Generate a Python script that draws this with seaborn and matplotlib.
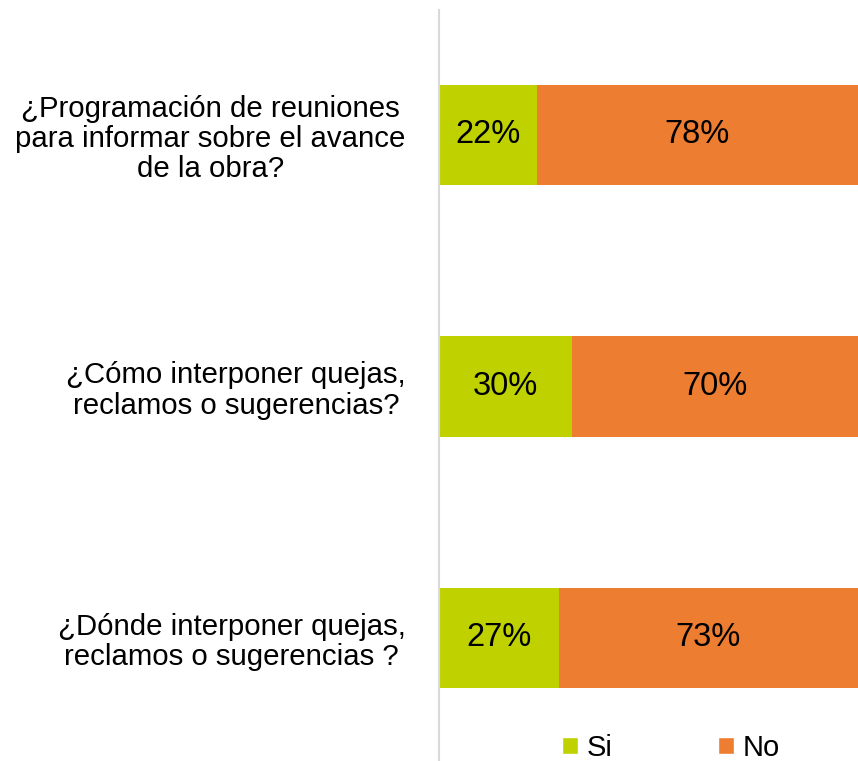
import numpy as np
import matplotlib
matplotlib.use('Agg')
import matplotlib.pyplot as plt
import seaborn as sns
import pandas as pd
from matplotlib.patches import Patch

# datos del gráfico
preguntas = [
    "¿Programación de reuniones\npara informar sobre el avance\nde la obra?",
    "¿Cómo interponer quejas,\nreclamos o sugerencias?",
    "¿Dónde interponer quejas,\nreclamos o sugerencias ?",
]
si = [0.22, 0.30, 0.27]
no = [0.78, 0.70, 0.73]

color_si = '#BFD200'
color_no = '#ED7D31'

sns.set_theme(style='white')
plt.rcParams['font.family'] = ['Liberation Sans', 'DejaVu Sans']

df = pd.DataFrame({'pregunta': preguntas, 'Si': si, 'No': no})
df['total'] = df['Si'] + df['No']

fig = plt.figure(figsize=(8.58, 7.61), dpi=100)
ax = fig.add_axes([439 / 858, 0.0, 1 - 439 / 858, 1 - 10 / 761])

# barra apilada: total (No) detrás, Si delante
sns.barplot(data=df, y='pregunta', x='total', orient='h', color=color_no,
            width=0.4, ax=ax, saturation=1, linewidth=0)
sns.barplot(data=df, y='pregunta', x='Si', orient='h', color=color_si,
            width=0.4, ax=ax, saturation=1, linewidth=0)

xmax = 0.945
ax.set_xlim(0, xmax)
ax.set_ylim(2.49, -0.497)

for i, (s, n) in enumerate(zip(si, no)):
    ax.text(s / 2, i, f"{s:.0%}", ha='center', va='center', fontsize=23.5, color='black')
    fin = min(s + n, xmax)
    ax.text((s + fin) / 2, i, f"{n:.0%}", ha='center', va='center', fontsize=23.5, color='black')

ax.set_xlabel('')
ax.set_ylabel('')
ax.set_xticks([])
ax.tick_params(axis='y', length=0, pad=24)
for lab in ax.get_yticklabels():
    lab.set_fontsize(21.2)
    lab.set_multialignment('center')
    lab.set_linespacing(1.1)
    lab.set_color('#000000')

for side in ['top', 'right', 'bottom']:
    ax.spines[side].set_visible(False)
ax.spines['left'].set_color('#D9D9D9')
ax.spines['left'].set_linewidth(1.5)

handles = [Patch(facecolor=color_si, label='Si'), Patch(facecolor=color_no, label='No')]
fig.legend(handles=handles, loc='center', bbox_to_anchor=(671 / 858, 1 - 748 / 761),
           ncol=2, frameon=False, fontsize=21, handlelength=0.55, handleheight=0.55,
           handletextpad=0.3, columnspacing=3.6, labelcolor='black')

fig.savefig('out.png', dpi=100)
